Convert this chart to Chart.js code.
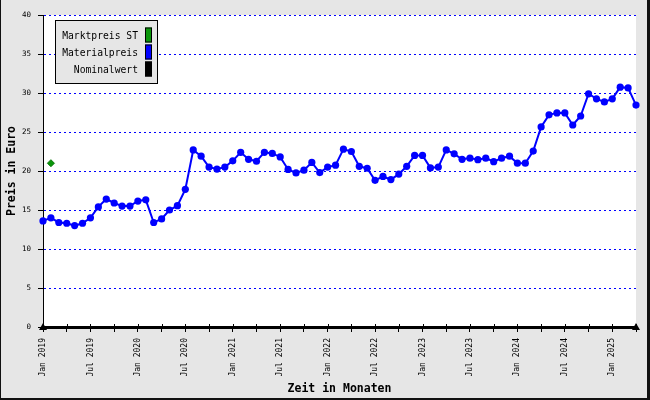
<!DOCTYPE html>
<html>
<head>
<meta charset="utf-8">
<script src="https://cdn.jsdelivr.net/npm/chart.js@4"></script>
<style>
  body { margin: 0; background: #e6e6e6; }
  canvas { display: block; }
</style>
</head>
<body>
<canvas id="preisChart" width="650" height="400"></canvas>
<script>
// Monate (Kategorien)
const monate = [
    "Jan 2019","Feb 2019","Mar 2019","Apr 2019","May 2019","Jun 2019","Jul 2019","Aug 2019","Sep 2019","Oct 2019","Nov 2019","Dec 2019",
    "Jan 2020","Feb 2020","Mar 2020","Apr 2020","May 2020","Jun 2020","Jul 2020","Aug 2020","Sep 2020","Oct 2020","Nov 2020","Dec 2020",
    "Jan 2021","Feb 2021","Mar 2021","Apr 2021","May 2021","Jun 2021","Jul 2021","Aug 2021","Sep 2021","Oct 2021","Nov 2021","Dec 2021",
    "Jan 2022","Feb 2022","Mar 2022","Apr 2022","May 2022","Jun 2022","Jul 2022","Aug 2022","Sep 2022","Oct 2022","Nov 2022","Dec 2022",
    "Jan 2023","Feb 2023","Mar 2023","Apr 2023","May 2023","Jun 2023","Jul 2023","Aug 2023","Sep 2023","Oct 2023","Nov 2023","Dec 2023",
    "Jan 2024","Feb 2024","Mar 2024","Apr 2024","May 2024","Jun 2024","Jul 2024","Aug 2024","Sep 2024","Oct 2024","Nov 2024","Dec 2024",
    "Jan 2025","Feb 2025","Mar 2025","Apr 2025"
];

// Materialpreis pro Monat (Euro)
const materialpreis = [
    13.6, 14.0, 13.4, 13.3, 13.0, 13.3, 14.0, 15.4, 16.4, 15.9, 15.5, 15.5,
    16.15, 16.3, 13.4, 13.85, 15.0, 15.55, 17.65, 22.7, 21.9, 20.5, 20.25, 20.5,
    21.3, 22.4, 21.5, 21.25, 22.4, 22.25, 21.8, 20.2, 19.75, 20.1, 21.1, 19.8,
    20.5, 20.75, 22.8, 22.5, 20.6, 20.35, 18.8, 19.3, 18.9, 19.6, 20.6, 22.0,
    22.0, 20.4, 20.5, 22.7, 22.2, 21.5, 21.65, 21.45, 21.65, 21.2, 21.65, 21.9,
    21.0, 21.0, 22.55, 25.65, 27.2, 27.45, 27.45, 25.9, 27.05, 29.9, 29.25, 28.85,
    29.25, 30.75, 30.65, 28.45
];

// Marktpreis ST (einzelner Wert)
const marktpreisMonate = ["Feb 2019"];
const marktpreisWerte = [21.0];

// Nominalwert (keine Werte)
const nominalwert = [];

const yTicks = [0, 5, 10, 15, 20, 25, 30, 35, 40];

const monoFont = "'DejaVu Sans Mono', 'Liberation Mono', monospace";

// Hintergrund, Legende, Pfeile, Rahmen
const decor = {
    id: "decor",
    beforeDraw(chart) {
        const {ctx, chartArea: a} = chart;
        ctx.save();
        ctx.fillStyle = "#e6e6e6";
        ctx.fillRect(0, 0, chart.width, chart.height);
        ctx.fillStyle = "#fff";
        ctx.fillRect(a.left, a.top, a.right - a.left, a.bottom - a.top);
        ctx.restore();
    },
    afterDraw(chart) {
        const {ctx, chartArea: a} = chart;
        const xs = chart.scales.x;
        ctx.save();

        // obere Hälfte der x-Ticks
        ctx.strokeStyle = "#000";
        ctx.lineWidth = 1;
        xs.ticks.forEach((t, i) => {
            if (i % 3 !== 0) return;
            const px = Math.round(xs.getPixelForTick(i)) + 0.5;
            ctx.beginPath();
            ctx.moveTo(px, a.bottom - 3);
            ctx.lineTo(px, a.bottom);
            ctx.stroke();
        });

        // Pfeile an der x-Achse
        ctx.fillStyle = "#000";
        [a.left, a.right].forEach(px => {
            ctx.beginPath();
            ctx.moveTo(px - 4, a.bottom + 3);
            ctx.lineTo(px + 4, a.bottom + 3);
            ctx.lineTo(px, a.bottom - 4);
            ctx.closePath();
            ctx.fill();
        });

        // Legende
        const lx = a.left + 12, ly = a.top + 5, lw = 103, lh = 64;
        ctx.fillStyle = "#e6e6e6";
        ctx.fillRect(lx, ly, lw, lh);
        ctx.strokeStyle = "#000";
        ctx.strokeRect(lx + 0.5, ly + 0.5, lw - 1, lh - 1);
        ctx.font = "9.7px " + monoFont;
        ctx.textAlign = "right";
        ctx.textBaseline = "middle";
        chart.data.datasets.forEach((ds, i) => {
            const cy = ly + 15 + i * 17;
            ctx.fillStyle = "#000";
            ctx.fillText(ds.label, lx + 83, cy + 1);
            ctx.fillStyle = ds.backgroundColor;
            ctx.fillRect(lx + 90, cy - 7.5, 7, 15);
            ctx.strokeRect(lx + 90.5, cy - 7, 6, 14);
        });

        // Rahmen
        ctx.fillStyle = "#111";
        ctx.fillRect(0, 0, 1, chart.height);
        ctx.fillRect(chart.width - 3, 0, 3, chart.height);
        ctx.fillRect(0, chart.height - 2, chart.width, 2);
        ctx.restore();
    }
};

new Chart(document.getElementById("preisChart"), {
    type: "line",
    data: {
        labels: monate,
        datasets: [
            {
                label: "Marktpreis ST",
                data: marktpreisMonate.map((m, i) => ({x: m, y: marktpreisWerte[i]})),
                showLine: false,
                backgroundColor: "#0a960a",
                borderColor: "#0a7a0a",
                pointStyle: "rectRot",
                pointRadius: 3.5,
                pointBorderWidth: 1
            },
            {
                label: "Materialpreis",
                data: materialpreis,
                borderColor: "#0000ff",
                backgroundColor: "#0000ff",
                borderWidth: 2,
                pointRadius: 3.6,
                pointBorderWidth: 0,
                tension: 0
            },
            {
                label: "Nominalwert",
                data: nominalwert,
                borderColor: "#000",
                backgroundColor: "#000"
            }
        ]
    },
    options: {
        responsive: false,
        animation: false,
        layout: {padding: {top: 15, right: 14, left: 0, bottom: 0}},
        plugins: {legend: {display: false}, tooltip: {enabled: false}},
        scales: {
            x: {
                type: "category",
                offset: false,
                grid: {
                    drawOnChartArea: false,
                    tickLength: 5,
                    tickWidth: 1,
                    tickColor: c => c.index % 3 === 0 ? "#000" : "rgba(0,0,0,0)"
                },
                border: {color: "#000", width: 3},
                ticks: {
                    autoSkip: false,
                    maxRotation: 90,
                    minRotation: 90,
                    padding: 6,
                    color: "#000",
                    font: {family: monoFont, size: 8},
                    callback(v, i) { return i % 6 === 0 ? this.getLabelForValue(v) : ""; }
                },
                title: {
                    display: true,
                    text: "Zeit in Monaten",
                    color: "#000",
                    font: {family: monoFont, size: 11.5, weight: "bold"},
                    padding: {top: 0, bottom: 4}
                },
                afterFit(s) {
                    s.height = 73;
                    s.paddingLeft = 0;
                    s.paddingRight = 0;
                }
            },
            y: {
                min: 0,
                max: 40,
                afterBuildTicks(s) { s.ticks = yTicks.map(v => ({value: v})); },
                grid: {color: "#0000ff", lineWidth: 1, tickLength: 5, tickColor: "#000"},
                border: {color: "#000", width: 1, dash: [2, 3]},
                ticks: {
                    padding: 7,
                    color: "#000",
                    font: {family: monoFont, size: 7.5}
                },
                title: {
                    display: true,
                    text: "Preis in Euro",
                    color: "#000",
                    font: {family: monoFont, size: 11.5, weight: "bold"},
                    padding: {top: 5, bottom: 0}
                },
                afterFit(s) {
                    s.width = 43;
                    s.paddingTop = 0;
                    s.paddingBottom = 0;
                }
            }
        }
    },
    plugins: [decor]
});
</script>
</body>
</html>
